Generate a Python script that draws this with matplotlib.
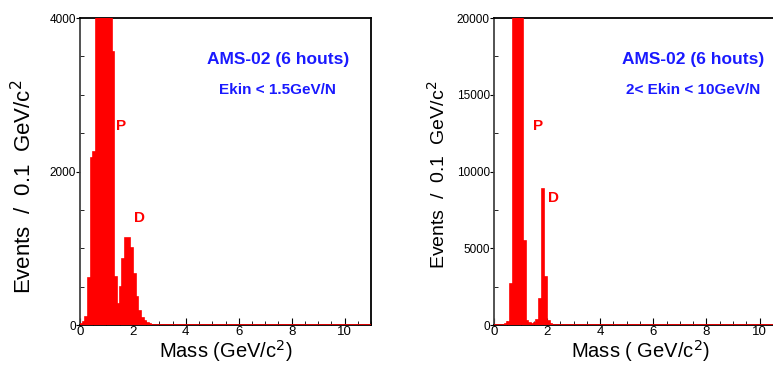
import numpy as np
import matplotlib.pyplot as plt
from matplotlib.ticker import MultipleLocator

plt.rcParams['font.family'] = ['Liberation Sans', 'DejaVu Sans']

# bin edges: 0.1 GeV/c^2 bins from 0 to 11
edges = np.round(np.arange(0, 11.01, 0.1), 2)

# left panel (Ekin < 1.5 GeV/N), counts per bin, remaining bins are empty
left_head = [10, 40, 110, 610, 2180, 2260, 7800, 11200, 12100, 10800,
             8200, 5600, 3560, 620, 270, 490, 860, 1140, 1140, 1010,
             660, 360, 180, 95, 50, 20, 8, 4, 2, 1]
# right panel (2 < Ekin < 10 GeV/N)
right_head = [0, 0, 0, 0, 60, 180, 2700, 30000, 62000, 58000,
              26000, 5450, 250, 120, 80, 150, 300, 1680, 8870, 3100,
              280, 80, 30, 10]

left_counts = np.zeros(len(edges) - 1)
left_counts[:len(left_head)] = left_head
right_counts = np.zeros(len(edges) - 1)
right_counts[:len(right_head)] = right_head

title_top = "AMS-02 (6 houts)"
left_cut = "Ekin < 1.5GeV/N"
right_cut = "2< Ekin < 10GeV/N"

fig = plt.figure(figsize=(7.73, 3.72), dpi=100)

panels = [
    # counts, axes rect, ymax, major, minor, cut text, P pos, D pos, xlabel, ylabel size, ylabel x, y
    (left_counts, [0.1035, 0.1263, 0.3765, 0.825], 4000, 2000, 500, left_cut,
     (1.57, 2600), (2.25, 1400), "Mass (GeV/c$^2$)", 16, -0.15, 0.45),
    (right_counts, [0.639, 0.1263, 0.378, 0.825], 20000, 5000, 2500, right_cut,
     (1.65, 13000), (2.25, 8300), "Mass ( GeV/c$^2$)", 14, -0.155, 0.49),
]

for counts, rect, ymax, major, minor, cut, ppos, dpos, xlab, ysize, ylab_x, ylab_y in panels:
    ax = fig.add_axes(rect)
    ax.stairs(counts, edges, fill=True, facecolor='#ff0000', edgecolor='#ff0000',
              linewidth=1.2, zorder=3)
    ax.set_xlim(0, 11)
    ax.set_ylim(0, ymax)

    ax.xaxis.set_major_locator(MultipleLocator(2))
    ax.xaxis.set_minor_locator(MultipleLocator(0.5))
    ax.yaxis.set_major_locator(MultipleLocator(major))
    ax.yaxis.set_minor_locator(MultipleLocator(minor))
    ax.tick_params(axis='x', which='both', direction='in', top=False)
    ax.tick_params(axis='x', which='major', length=5, labelsize=9.5, pad=1)
    ax.tick_params(axis='x', which='minor', length=3)
    ax.tick_params(axis='y', which='major', direction='out', length=3, labelsize=8.5, pad=0, right=False)
    ax.tick_params(axis='y', which='minor', direction='in', length=3, right=False)
    for s in ax.spines.values():
        s.set_linewidth(1.3)
    ax.spines['left'].set_color('#444444')

    ax.set_xlabel(xlab, fontsize=14.5, labelpad=0)
    ax.set_ylabel("Events  /  0.1  GeV/c$^2$", fontsize=ysize)
    ax.yaxis.set_label_coords(ylab_x, ylab_y)

    ax.text(0.68, 0.865, title_top, transform=ax.transAxes, color='#1a1aff',
            fontsize=12.5, fontweight='bold', ha='center', va='center')
    ax.text(0.68, 0.765, cut, transform=ax.transAxes, color='#1a1aff',
            fontsize=11, fontweight='bold', ha='center', va='center')
    ax.text(ppos[0], ppos[1], "P", color='#ff0000', fontsize=11, fontweight='bold',
            ha='center', va='center')
    ax.text(dpos[0], dpos[1], "D", color='#ff0000', fontsize=11, fontweight='bold',
            ha='center', va='center')

fig.savefig("out.png", dpi=100)
